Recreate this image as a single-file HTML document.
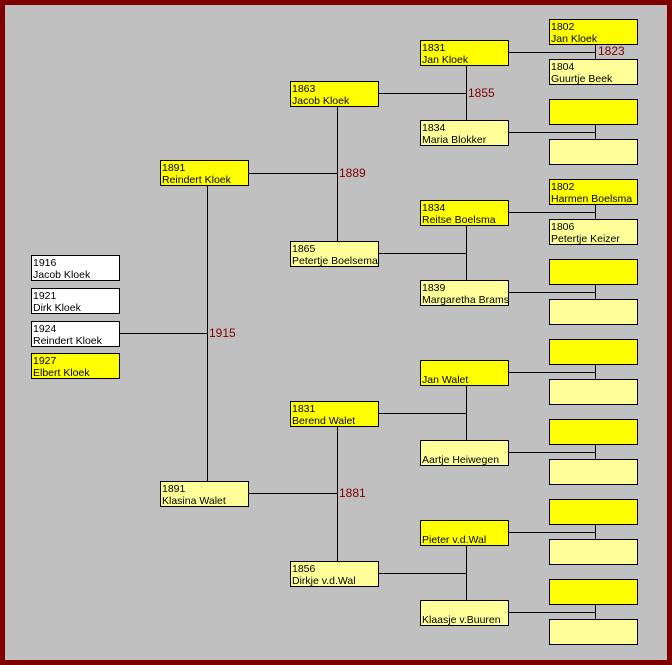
<!DOCTYPE html>
<html><head><meta charset="utf-8"><style>
html,body{margin:0;padding:0}
body{width:672px;height:665px;position:relative;background:#800000;overflow:hidden;font-family:"Liberation Sans",Arial,sans-serif}
#in{position:absolute;left:5px;top:5px;width:662px;height:655px;background:#c0c0c0}
.b{position:absolute;width:87px;height:24px;border:1px solid #000;font-size:10.5px;line-height:12px;padding:0;box-sizing:content-box;white-space:nowrap;overflow:hidden}
.b span{display:block;padding-left:1px;position:relative;top:1px}
.y{background:#ffff00}.p{background:#ffff99}.w{background:#fff}
.h{position:absolute;height:1px;background:#000}
.v{position:absolute;width:1px;background:#000}
.l{position:absolute;color:#800000;font-size:12px;line-height:13px}
</style></head><body><div id="in"></div>
<div class="b w" style="left:31px;top:255px"><span>1916</span><span>Jacob Kloek</span></div>
<div class="b w" style="left:31px;top:288px"><span>1921</span><span>Dirk Kloek</span></div>
<div class="b w" style="left:31px;top:321px"><span>1924</span><span>Reindert Kloek</span></div>
<div class="b y" style="left:31px;top:353px"><span>1927</span><span>Elbert Kloek</span></div>
<div class="h" style="left:120px;top:333px;width:88px"></div>
<div class="v" style="left:207px;top:186px;height:295px"></div>
<div class="l" style="left:209px;top:327px">1915</div>
<div class="b y" style="left:160px;top:160px"><span>1891</span><span>Reindert Kloek</span></div>
<div class="b p" style="left:160px;top:481px"><span>1891</span><span>Klasina Walet</span></div>
<div class="h" style="left:249px;top:173px;width:88px"></div>
<div class="h" style="left:249px;top:493px;width:88px"></div>
<div class="v" style="left:337px;top:106px;height:135px"></div>
<div class="v" style="left:337px;top:426px;height:135px"></div>
<div class="l" style="left:339px;top:167px">1889</div>
<div class="l" style="left:339px;top:487px">1881</div>
<div class="b y" style="left:290px;top:81px"><span>1863</span><span>Jacob Kloek</span></div>
<div class="b p" style="left:290px;top:241px"><span>1865</span><span>Petertje Boelsema</span></div>
<div class="b y" style="left:290px;top:401px"><span>1831</span><span>Berend Walet</span></div>
<div class="b p" style="left:290px;top:561px"><span>1856</span><span>Dirkje v.d.Wal</span></div>
<div class="h" style="left:379px;top:93px;width:87px"></div>
<div class="h" style="left:379px;top:253px;width:87px"></div>
<div class="h" style="left:379px;top:413px;width:87px"></div>
<div class="h" style="left:379px;top:573px;width:87px"></div>
<div class="v" style="left:466px;top:66px;height:54px"></div>
<div class="v" style="left:466px;top:226px;height:54px"></div>
<div class="v" style="left:466px;top:386px;height:54px"></div>
<div class="v" style="left:466px;top:546px;height:54px"></div>
<div class="l" style="left:468px;top:87px">1855</div>
<div class="b y" style="left:420px;top:40px"><span>1831</span><span>Jan Kloek</span></div>
<div class="b p" style="left:420px;top:120px"><span>1834</span><span>Maria Blokker</span></div>
<div class="b y" style="left:420px;top:200px"><span>1834</span><span>Reitse Boelsma</span></div>
<div class="b p" style="left:420px;top:280px"><span>1839</span><span>Margaretha Brams</span></div>
<div class="b y" style="left:420px;top:360px"><span>&nbsp;</span><span>Jan Walet</span></div>
<div class="b p" style="left:420px;top:440px"><span>&nbsp;</span><span>Aartje Heiwegen</span></div>
<div class="b y" style="left:420px;top:520px"><span>&nbsp;</span><span>Pieter v.d.Wal</span></div>
<div class="b p" style="left:420px;top:600px"><span>&nbsp;</span><span>Klaasje v.Buuren</span></div>
<div class="h" style="left:509px;top:52px;width:87px"></div>
<div class="h" style="left:509px;top:132px;width:87px"></div>
<div class="h" style="left:509px;top:212px;width:87px"></div>
<div class="h" style="left:509px;top:292px;width:87px"></div>
<div class="h" style="left:509px;top:372px;width:87px"></div>
<div class="h" style="left:509px;top:452px;width:87px"></div>
<div class="h" style="left:509px;top:532px;width:87px"></div>
<div class="h" style="left:509px;top:612px;width:87px"></div>
<div class="v" style="left:595px;top:44px;height:15px"></div>
<div class="v" style="left:595px;top:124px;height:15px"></div>
<div class="v" style="left:595px;top:204px;height:15px"></div>
<div class="v" style="left:595px;top:284px;height:15px"></div>
<div class="v" style="left:595px;top:364px;height:15px"></div>
<div class="v" style="left:595px;top:444px;height:15px"></div>
<div class="v" style="left:595px;top:524px;height:15px"></div>
<div class="v" style="left:595px;top:604px;height:15px"></div>
<div class="l" style="left:598px;top:45px">1823</div>
<div class="b y" style="left:549px;top:19px"><span>1802</span><span>Jan Kloek</span></div>
<div class="b p" style="left:549px;top:59px"><span>1804</span><span>Guurtje Beek</span></div>
<div class="b y" style="left:549px;top:99px"></div>
<div class="b p" style="left:549px;top:139px"></div>
<div class="b y" style="left:549px;top:179px"><span>1802</span><span>Harmen Boelsma</span></div>
<div class="b p" style="left:549px;top:219px"><span>1806</span><span>Petertje Keizer</span></div>
<div class="b y" style="left:549px;top:259px"></div>
<div class="b p" style="left:549px;top:299px"></div>
<div class="b y" style="left:549px;top:339px"></div>
<div class="b p" style="left:549px;top:379px"></div>
<div class="b y" style="left:549px;top:419px"></div>
<div class="b p" style="left:549px;top:459px"></div>
<div class="b y" style="left:549px;top:499px"></div>
<div class="b p" style="left:549px;top:539px"></div>
<div class="b y" style="left:549px;top:579px"></div>
<div class="b p" style="left:549px;top:619px"></div>
</body></html>
